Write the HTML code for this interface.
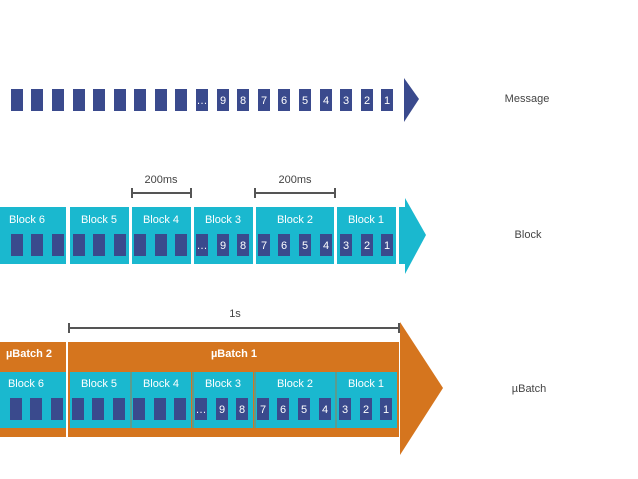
<!DOCTYPE html>
<html><head><meta charset="utf-8"><style>html,body{margin:0;padding:0;background:#fff}svg{display:block}text{font-family:"Liberation Sans",sans-serif}</style></head><body>
<svg width="638" height="479" viewBox="0 0 638 479" xmlns="http://www.w3.org/2000/svg">
<defs>
<g id="sq">
<rect x="11" width="12" height="22"/><rect x="31" width="12" height="22"/><rect x="52" width="12" height="22"/><rect x="73" width="12" height="22"/><rect x="93" width="12" height="22"/><rect x="114" width="12" height="22"/><rect x="134" width="12" height="22"/><rect x="155" width="12" height="22"/><rect x="175" width="12" height="22"/><rect x="196" width="12" height="22"/><rect x="217" width="12" height="22"/><rect x="237" width="12" height="22"/><rect x="258" width="12" height="22"/><rect x="278" width="12" height="22"/><rect x="299" width="12" height="22"/><rect x="320" width="12" height="22"/><rect x="340" width="12" height="22"/><rect x="361" width="12" height="22"/><rect x="381" width="12" height="22"/>
</g>
<g id="nums" fill="#fff" font-size="11" text-anchor="middle">
<text x="202" y="15">…</text><text x="223" y="15">9</text><text x="243" y="15">8</text><text x="264" y="15">7</text><text x="284" y="15">6</text><text x="305" y="15">5</text><text x="326" y="15">4</text><text x="346" y="15">3</text><text x="367" y="15">2</text><text x="387" y="15">1</text>
</g>
</defs>
<!-- Message row -->
<g fill="#3a4a8d" transform="translate(0,89)"><use href="#sq"/><use href="#nums"/></g>
<polygon points="404,78 419,99 404,122" fill="#3a4a8d"/>
<text x="527" y="102" font-size="11" fill="#444" text-anchor="middle">Message</text>

<!-- brackets -->
<g stroke="#555" stroke-width="2" fill="none">
<path d="M132,193 H191 M132,188 V198 M191,188 V198"/>
<path d="M255,193 H335 M255,188 V198 M335,188 V198"/>
<path d="M69,328 H399 M69,323 V333 M399,323 V333"/>
</g>
<g font-size="11" fill="#444" text-anchor="middle">
<text x="161" y="183">200ms</text><text x="295" y="183">200ms</text><text x="235" y="317">1s</text>
</g>

<!-- Block row -->
<g fill="#1ab8cf">
<rect x="0" y="207" width="66" height="57"/><rect x="70" y="207" width="59" height="57"/><rect x="132" y="207" width="59" height="57"/><rect x="194" y="207" width="59" height="57"/><rect x="256" y="207" width="78" height="57"/><rect x="337" y="207" width="59" height="57"/>
<rect x="399" y="207" width="7" height="57"/>
<polygon points="405,198 426,235 405,274"/>
</g>
<g font-size="11" fill="#fff" text-anchor="middle">
<text x="27" y="223">Block 6</text><text x="99" y="223">Block 5</text><text x="161" y="223">Block 4</text><text x="223" y="223">Block 3</text><text x="295" y="223">Block 2</text><text x="366" y="223">Block 1</text>
</g>
<g fill="#3a4a8d" transform="translate(0,234)"><use href="#sq"/><use href="#nums"/></g>
<text x="528" y="238" font-size="11" fill="#444" text-anchor="middle">Block</text>

<!-- Batch row -->
<g fill="#d5751e">
<rect x="0" y="342" width="66" height="95"/><rect x="68" y="342" width="331" height="95"/>
<polygon points="400,322 443,388 400,455"/>
</g>
<g fill="#1ab8cf">
<rect x="0" y="372" width="66" height="56"/><rect x="70" y="372" width="60" height="56"/><rect x="132" y="372" width="59" height="56"/><rect x="194" y="372" width="59" height="56"/><rect x="256" y="372" width="79" height="56"/><rect x="337" y="372" width="60" height="56"/>
</g>
<g fill="#5b9c8e"><rect x="130" y="372" width="2" height="56"/><rect x="192" y="372" width="2" height="56"/><rect x="254" y="372" width="2" height="56"/><rect x="335" y="372" width="2" height="56"/></g>
<g font-size="11" fill="#fff" text-anchor="middle" font-weight="bold">
<text x="29" y="357">µBatch 2</text><text x="234" y="357">µBatch 1</text>
</g>
<g font-size="11" fill="#fff" text-anchor="middle">
<text x="26" y="387">Block 6</text><text x="99" y="387">Block 5</text><text x="161" y="387">Block 4</text><text x="223" y="387">Block 3</text><text x="295" y="387">Block 2</text><text x="366" y="387">Block 1</text>
</g>
<g fill="#3a4a8d" transform="translate(-1,398)"><use href="#sq"/><use href="#nums"/></g>
<text x="529" y="392" font-size="11" fill="#444" text-anchor="middle">µBatch</text>
</svg>
</body></html>
